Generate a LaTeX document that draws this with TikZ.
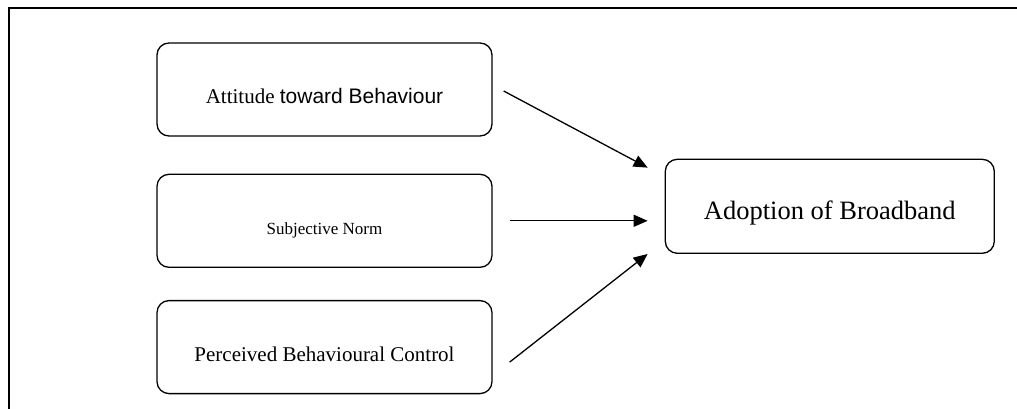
\documentclass[tikz,border=0pt]{standalone}
\usepackage{fontspec}
\setmainfont{Liberation Serif}
\newfontfamily\arialfont{Liberation Sans}
\usetikzlibrary{positioning,arrows.meta}

\begin{document}
\begin{tikzpicture}[x=1pt, y=-1pt, >={Triangle[length=14pt,width=12pt]}, line width=1.3pt]
        \tikzstyle{factor}=[draw, rounded corners=12pt, minimum width=335pt, minimum height=93pt, font=\fontsize{21}{25}\selectfont, text height=28pt, text depth=0pt]
        \tikzstyle{outcome}=[factor, minimum width=329pt, minimum height=94pt, font=\fontsize{26.5}{30}\selectfont, text height=26pt]
        \useasboundingbox (0,0) rectangle (1017,409);
        \draw[line width=1.8pt] (1017,8) -- (9,8) -- (9,409);
        \node[factor] (att) at (324.5,89.5) {Attitude {\arialfont toward Behaviour}};
        \node[factor, below=37pt of att, font=\fontsize{17}{20}\selectfont, text height=27pt] (sn) {Subjective Norm};
        \node[factor, below=32pt of sn] (pbc) {Perceived Behavioural Control};
        \node[outcome, right=172pt of sn, yshift=14.5pt] (ado) {Adoption of Broadband};
        \coordinate (att-out) at ([xshift=11pt,yshift=-1.5pt]att.east);
        \coordinate (sn-out) at ([xshift=17pt]sn.east);
        \coordinate (pbc-out) at ([xshift=17pt,yshift=-15pt]pbc.east);
        \coordinate (ado-in1) at ([xshift=-17pt,yshift=-9pt]ado.north west);
        \coordinate (ado-in2) at (sn-out -| ado-in1);
        \coordinate (ado-in3) at ([xshift=-17pt]ado.south west);
        \draw[->] (att-out) -- (ado-in1);
        \draw[->] (sn-out) -- (ado-in2);
        \draw[->] (pbc-out) -- (ado-in3);
\end{tikzpicture}
\end{document}
